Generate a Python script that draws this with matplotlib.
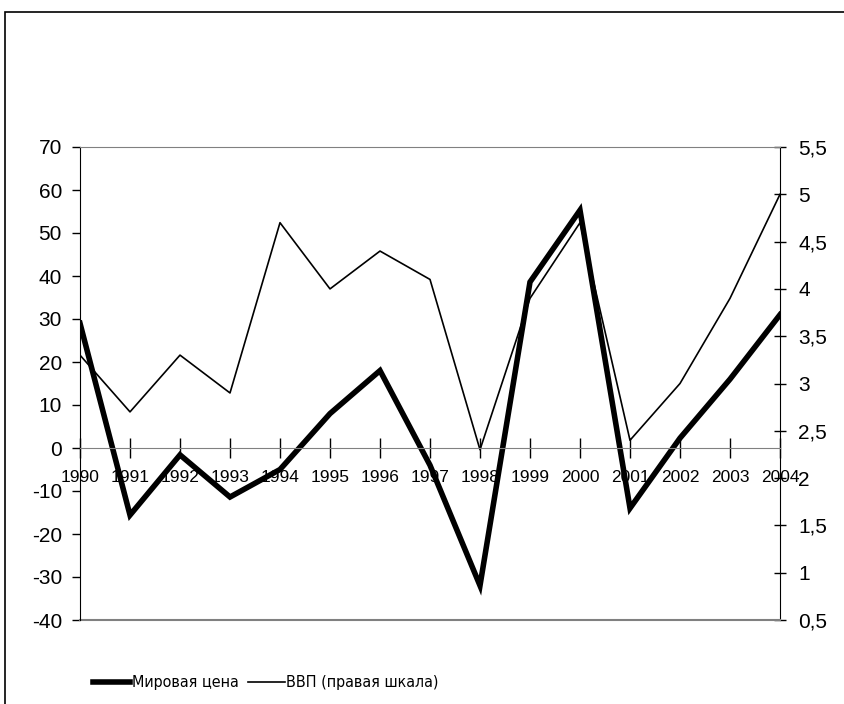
import numpy as np
import matplotlib
matplotlib.use("Agg")
import matplotlib.pyplot as plt
from matplotlib.ticker import FuncFormatter
from matplotlib.patches import Rectangle

plt.rcParams['font.family'] = ['Liberation Sans', 'DejaVu Sans']
plt.rcParams['axes.unicode_minus'] = False

years = list(range(1990, 2005))
# Мировая цена, левая шкала
price = [29, -15.6, -1.6, -11.4, -5, 8, 18, -4, -32, 38.6, 55.3, -14, 2.3, 16, 31]
# ВВП, правая шкала
gdp = [3.3, 2.7, 3.3, 2.9, 4.7, 4.0, 4.4, 4.1, 2.3, 3.9, 4.7, 2.4, 3.0, 3.9, 5.0]

left_ticks = list(range(-40, 71, 10))
right_ticks = [0.5, 1, 1.5, 2, 2.5, 3, 3.5, 4, 4.5, 5, 5.5]

fig = plt.figure(figsize=(8.44, 7.04), dpi=100)
ax = fig.add_axes([80 / 844, 1 - 620 / 704, 700 / 844, 473 / 704])
ax2 = ax.twinx()

# frame around the chart area
fig.patches.append(Rectangle((5 / 844, -0.1), 1.2, 1 - 12 / 704 + 0.1,
                             transform=fig.transFigure, fill=False,
                             edgecolor='black', linewidth=1.2))

l2, = ax2.plot(years, gdp, color='black', linewidth=1.2, label='ВВП (правая шкала)')
l1, = ax.plot(years, price, color='black', linewidth=4, label='Мировая цена',
              solid_joinstyle='miter')
ax.set_zorder(ax2.get_zorder() + 1)
ax.patch.set_visible(False)

ax.set_xlim(1990, 2004)
ax.set_ylim(-40, 70)
ax2.set_ylim(0.5, 5.5)

ax.set_yticks(left_ticks)
ax2.set_yticks(right_ticks)
ax.set_xticks(years)
ax.set_xticklabels([str(y) for y in years])
ax2.yaxis.set_major_formatter(FuncFormatter(lambda v, p: ('%g' % v).replace('.', ',')))

ax.spines['bottom'].set_position(('data', 0))
ax.spines['bottom'].set_color('#808080')
ax.spines['top'].set_color('#808080')
ax.spines['left'].set_color('black')
ax.spines['right'].set_visible(False)
ax2.spines['top'].set_visible(False)
ax2.spines['bottom'].set_visible(False)
ax2.spines['left'].set_visible(False)
ax2.spines['right'].set_color('black')
ax.axhline(-40, color='#808080', linewidth=1.5, clip_on=False)

ax.tick_params(axis='y', direction='out', length=6, width=1, labelsize=15, pad=7)
ax.tick_params(axis='x', direction='inout', length=14, width=1, labelsize=12.5,
               pad=9, color='black')
ax2.tick_params(axis='y', direction='inout', length=8, width=1, labelsize=15, pad=9)

fig.legend(handles=[l1, l2], loc='center', bbox_to_anchor=(266 / 844, 21 / 704),
           ncol=2, frameon=False, prop={'family': 'DejaVu Sans', 'stretch': 'condensed',
                                        'size': 11.5},
           handlelength=2.3, handletextpad=0.1, columnspacing=0.6)

fig.savefig('out.png', dpi=100)
